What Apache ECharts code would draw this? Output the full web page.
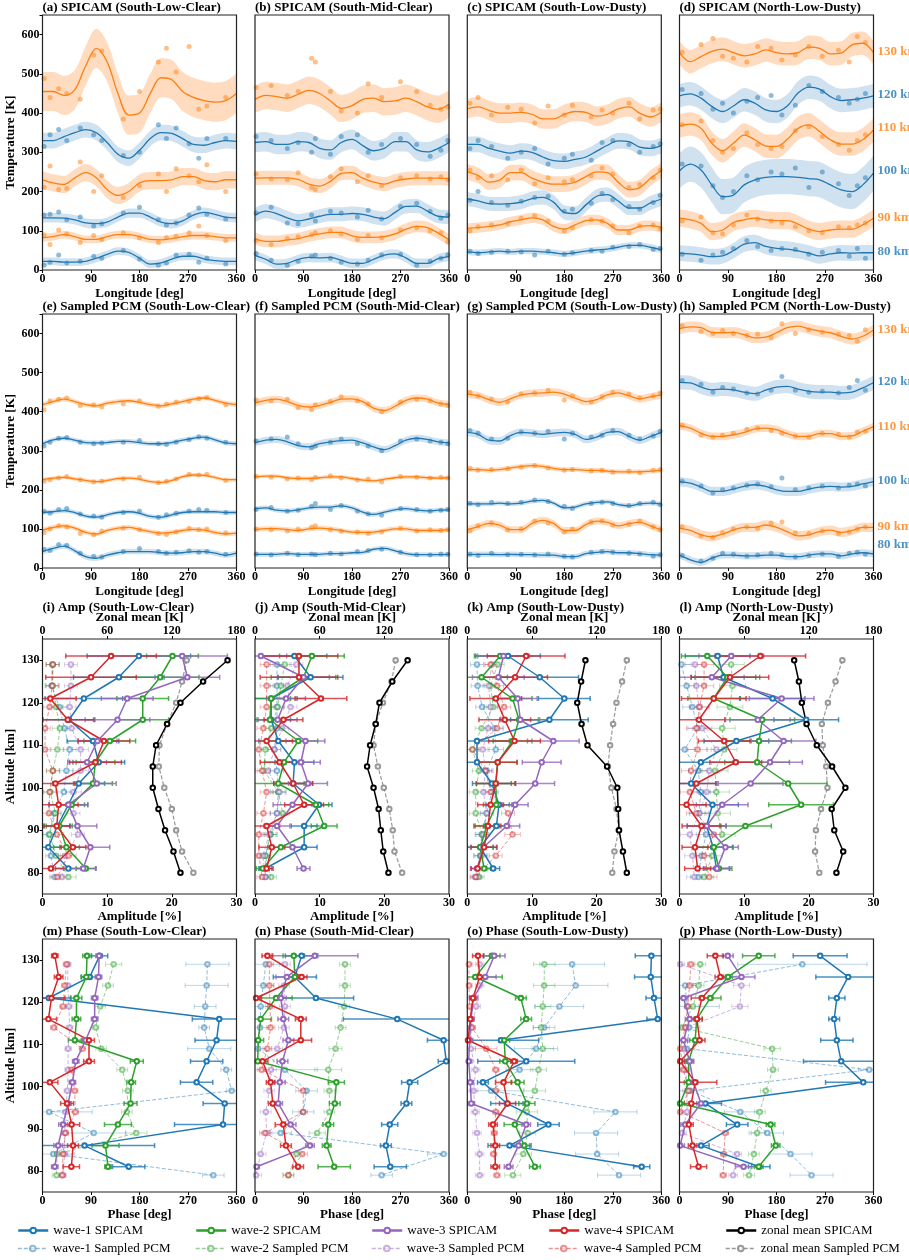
<!DOCTYPE html>
<html><head><meta charset="utf-8">
<script src="https://cdn.jsdelivr.net/npm/echarts@6/dist/echarts.min.js"></script>
<style>html,body{margin:0;padding:0;background:#fff}#c{width:909px;height:1260px}</style>
</head><body><div id="c"></div>
<script>
// ---------------- DATA ----------------
const lonFit=[0,20,40,60,80,100,120,140,160,180,200,220,240,260,280,300,320,340,360];
const kmLabels=['80 km','90 km','100 km','110 km','120 km','130 km'];
const kmPosTop=[46,133,253,362,446,557];
const kmPosBot=[61,106,223,363,476,610];
// fits: rows 80,90,100,110,120,130 km (offset temperatures)
const fitA=[[22,22,20,20,22,30,40,48,45,30,15,18,28,35,35,28,24,22,22],[82,85,90,85,78,78,85,90,90,85,78,77,80,85,88,88,85,82,82],[133,133,132,128,120,118,122,135,145,145,135,122,118,125,140,147,142,135,133],[230,222,218,235,248,235,205,190,200,222,228,228,230,238,238,228,225,230,230],[330,330,340,350,358,350,325,295,285,305,335,350,348,335,320,318,325,330,328],[455,455,445,460,520,565,530,450,395,400,450,490,485,455,440,432,428,432,450]];
const sigA=[10,10,12,22,20,50];
const fitB=[[37,27,15,17,27,32,31,32,25,17,17,27,38,41,31,17,17,29,35],[80,73,73,77,80,87,92,96,96,87,83,83,85,92,104,111,108,94,77],[140,150,144,133,125,130,137,142,142,144,142,135,131,147,162,163,150,137,135],[234,235,235,235,231,219,214,226,246,248,234,224,219,227,232,234,234,234,233],[325,327,320,320,327,325,310,306,325,333,317,304,310,327,327,306,301,310,325],[435,445,442,438,448,458,450,431,412,419,435,438,429,431,438,429,416,410,423]];
const sigB=[12,15,18,18,25,35];
const fitC=[[46,44,46,48,46,48,48,46,44,41,44,48,51,53,58,63,63,58,51],[106,108,111,115,123,128,133,128,111,104,115,126,128,119,102,102,111,113,108],[181,176,169,168,169,173,182,185,173,147,144,166,188,192,176,158,158,171,181],[250,241,224,229,248,248,234,224,219,219,224,238,250,248,224,205,210,234,253],[320,320,310,303,298,303,300,288,279,277,282,288,303,318,329,327,313,310,317],[411,416,407,400,400,402,397,385,385,397,404,402,392,397,411,416,400,390,402]];
const sigC=[8,13,18,20,20,25];
const fitD=[[43,41,38,34,36,49,66,70,60,55,53,49,43,36,41,44,43,44,44],[132,128,119,98,102,121,128,132,128,126,126,117,104,98,102,104,104,115,132],[253,270,255,217,187,191,217,230,236,238,238,236,233,230,217,204,200,217,247],[367,372,361,323,304,323,344,332,316,315,333,361,370,353,332,321,321,332,357],[444,449,438,417,404,418,434,425,408,404,418,451,466,461,442,432,434,438,444],[554,531,544,557,563,554,546,551,561,554,551,554,568,565,551,553,574,578,554]];
const sigD=[20,22,45,30,30,30];
const fitE=[[42,50,56,44,29,25,33,39,42,42,42,39,38,39,42,42,38,33,38],[97,104,108,102,91,87,96,102,104,99,93,89,91,96,99,97,91,87,89],[142,144,147,142,133,130,136,142,144,140,132,130,136,142,144,144,144,142,142],[226,230,232,228,224,221,224,229,230,227,221,219,224,234,238,237,232,226,226],[318,328,332,327,321,320,321,324,324,321,318,318,321,327,332,335,328,320,318],[418,426,432,426,418,415,422,426,428,424,418,415,420,426,432,435,429,422,418]];
const sigE=[7,6,6,5,6,6];
const fitF=[[35,35,35,37,35,35,35,37,37,39,40,48,50,44,37,34,34,34,35],[98,101,101,98,96,100,102,100,96,92,91,92,96,100,100,96,96,96,98],[152,154,148,146,149,154,156,156,159,154,143,137,143,149,152,148,146,148,149],[233,235,235,231,229,229,231,233,233,229,225,223,227,231,233,233,231,230,231],[320,327,329,323,313,310,318,323,326,327,320,310,303,313,327,332,329,323,320],[422,429,432,426,416,412,416,424,432,433,426,409,403,414,429,435,432,422,419]];
const sigF=[6,6,6,5,9,9];
const fitG=[[34,35,35,34,35,34,34,33,33,29,29,37,40,42,39,39,37,34,33],[98,106,114,110,98,98,114,122,114,96,96,111,120,117,108,114,117,108,98],[164,164,164,166,164,166,171,173,166,154,156,164,168,169,162,159,164,166,164],[252,252,250,252,256,260,262,260,255,252,252,250,250,248,246,246,246,248,250],[347,342,327,325,339,347,345,342,345,347,342,329,335,347,349,337,327,337,347],[445,441,431,424,433,443,447,448,450,445,435,426,431,443,448,441,433,438,443]];
const sigG=[7,9,6,6,10,10];
const fitH=[[33,21,14,25,33,33,31,31,33,33,29,29,33,36,36,31,36,39,36],[102,96,85,80,87,97,104,104,110,104,93,82,85,93,97,91,96,104,104],[221,217,207,196,196,202,209,213,209,200,196,196,202,207,209,207,209,215,221],[364,358,345,337,337,341,347,356,358,354,344,337,337,344,344,337,338,350,362],[475,474,463,456,458,456,450,446,455,463,465,458,452,450,450,448,450,461,474],[612,617,615,603,602,603,597,589,591,602,615,619,612,606,602,593,586,593,609]];
const sigH=[9,12,12,10,18,14];
// observation longitudes per column, and observed (offset) temperatures
const lonA=[3,14,30,45,70,95,110,150,180,215,230,248,272,290,305,340];
const lonB=[2,30,60,80,105,112,140,160,190,210,235,270,300,325,345,358];
const lonC=[5,20,45,75,100,125,150,180,195,230,250,270,300,320,345,358];
const lonD=[5,40,62,80,100,125,145,170,190,215,240,265,295,315,330,345];
const ptsA=[[12,20,38,18,22,35,30,50,28,12,18,38,40,20,30,15],[90,65,102,92,70,88,78,95,82,70,82,86,95,112,88,75],[140,142,148,128,135,112,118,145,160,128,115,120,140,158,142,130],[210,265,205,208,275,200,240,185,215,245,200,258,240,225,268,200],[315,345,358,330,362,345,330,292,300,370,335,362,322,285,335,335],[488,440,462,450,435,548,558,385,455,530,565,505,570,410,418,440]];
const ptsE=[[48,45,60,58,38,30,28,42,50,42,38,40,44,40,42,35],[90,100,108,105,88,85,95,102,98,88,86,92,102,98,100,90],[145,140,150,152,138,133,130,142,146,130,136,140,146,150,148,142],[222,226,230,234,226,220,222,228,232,218,222,228,240,238,240,224],[312,322,332,334,322,318,320,322,326,318,316,322,328,336,332,322],[405,428,432,435,415,418,412,420,428,414,420,425,426,433,436,418]];
const ptsB=[[42,25,12,22,35,38,30,20,15,25,38,40,12,22,30,38],[75,65,80,85,90,95,100,92,78,88,82,102,108,100,95,72],[145,160,120,118,140,125,150,145,135,152,130,162,170,150,132,140],[245,232,230,248,210,205,238,258,225,240,215,235,240,232,238,230],[340,330,310,325,300,335,295,340,345,300,320,335,320,290,305,330],[465,470,445,455,540,530,455,405,400,475,440,480,455,420,410,415]];
const ptsF=[[36,33,38,34,36,34,38,36,42,45,48,40,34,33,36,35],[100,98,95,100,105,108,98,94,92,88,92,102,95,98,96,98],[150,155,145,148,158,165,150,160,145,138,135,152,150,145,148,150],[235,232,228,230,226,232,236,230,225,228,220,234,232,230,232,230],[325,330,335,318,308,312,322,330,318,312,300,325,330,325,322,318],[430,428,432,410,405,418,426,438,428,420,400,425,432,428,420,416]];
const ptsC=[[48,42,45,48,46,38,48,40,44,50,48,58,60,65,52,55],[100,110,115,118,132,138,125,100,108,128,125,112,95,112,115,105],[178,200,172,165,175,185,188,150,155,170,195,180,162,155,172,190],[255,235,240,230,255,220,235,225,230,240,260,245,210,218,235,255],[310,330,315,285,300,310,270,285,295,280,325,330,320,300,315,322],[425,440,395,415,410,375,418,395,420,390,408,400,425,385,408,410]];
const ptsG=[[36,32,38,34,35,33,36,30,28,40,42,40,38,36,30,34],[95,108,115,98,100,120,115,92,100,118,120,110,112,120,105,98],[166,162,168,165,168,174,170,158,152,165,168,165,160,165,168,162],[255,250,252,254,258,262,256,250,252,248,250,245,248,244,250,252],[352,345,330,332,348,345,350,330,345,335,340,352,340,330,338,350],[450,440,432,425,445,448,455,430,440,425,438,450,445,435,440,448]];
const ptsD=[[40,25,38,45,55,75,60,50,55,52,40,45,50,35,55,30],[125,135,95,92,115,140,130,125,120,110,100,95,110,108,115,120],[270,265,215,185,200,240,230,250,245,260,210,250,220,190,215,235],[370,380,330,300,310,350,320,310,315,355,365,340,320,305,330,345],[460,450,410,425,400,430,440,445,395,420,470,455,440,425,435,450],[555,575,590,545,540,530,570,565,535,548,570,545,560,530,595,580]];
const ptsH=[[32,18,25,38,35,30,33,38,34,28,32,36,30,38,40,35],[105,82,78,90,100,105,102,115,118,90,88,95,88,92,100,105],[222,210,192,200,205,212,215,208,230,200,205,210,205,212,215,210],[365,340,335,340,345,355,358,352,345,338,335,345,342,335,348,350],[480,470,450,462,458,448,445,455,490,455,450,452,448,462,480,455],[620,605,600,608,600,595,598,590,625,600,610,603,598,595,580,610]];

// altitude levels
const altS=[131,126,121,116,111,106,101,96,91,86,81];
const altZ=[130,125,120,115,110,105,100,95,90,85,80];
const altP=[129,124,119,114,109,104,99,94,89,84,79];
// amplitudes [%] : wave-1..4 ; zonal mean [K]
const ampS_i=[[14.9,11.8,6.4,4.1,7.8,8.7,5.6,4.0,2.3,0.9,4.0],[20.1,18.2,15.5,15.5,10.4,8.2,7.8,4.5,2.6,3.7,6.7],[21.6,22.4,13.1,11.6,8.5,6.9,8.4,4.0,5.4,7.4,6.3],[10.6,7.5,1.2,3.9,9.5,8.2,2.0,2.5,2.2,4.7,1.3]];
const ampSe_i=[[8,7,6,4,4,4,4,3,2,2,2],[4,6,4,4,4,3,3,2,2,2,1.5],[7,5,4,5,3,3,3,3,3,3,2],[7,7,4,4,4,4,3,3,2,2,2]];
const ampP_i=[[1.5,1.4,2.6,3.4,4.2,3.7,3.3,1.8,1.0,1.3,1.9],[1.6,1.6,2.1,2.7,2.3,1.6,1.2,2.0,1.1,2.1,4.0],[4.4,4.4,4.2,4.5,5.9,5.9,4.8,4.8,5.5,3.5,3.0],[1.6,1.5,1.1,0.4,0.4,1.6,1.1,1.0,2.2,4.0,2.3]];
const ampPe_i=[[1,1,1.2,1,1,1,1,1,1,0.8,0.8],[1,1,1,1.2,1,1,1,1,1,1,1.2],[1,1,1,1,1.2,1.2,1.2,1,1,1,1],[1,1,1,0.8,0.8,1,1,1,1,1.2,1]];
const zmS_i=[171.7,149,128,115.6,105.4,102.3,102.3,107.6,113.7,121.5,128];
const zmP_i=[133.8,129.5,124,115.6,108.5,107.9,113,120,124,129.5,140];

const ampS_j=[[6.1,8.6,2.5,2.5,3.6,6.1,5.9,9.9,7.6,7.6,1.6],[8.8,7.5,2.5,2.3,6.7,4.5,3.6,9.4,10.7,4.0,1.2],[0.9,7.5,4.8,3.5,7.8,7.1,8.2,5.8,3.4,5.8,7.5],[6.8,6.8,10.2,4.4,1.8,3.8,5.9,7.6,1.8,2.6,1.8]];
const ampSe_j=[[5,5,4,3,3,3,3,2,2,2,1],[5,5,3,2,3,3,4,2,2,2,1],[4,4,3,3,3,3,3,3,2,2,1],[6,6,4,3,4,3,3,3,2,2,1]];
const ampP_j=[[3.4,3.4,3.4,3.4,3.0,3.4,3.6,3.4,2.4,1.6,1.6],[4.6,4.0,3.5,2.5,1.6,1.4,3.6,4.3,2.4,1.6,2.5],[6.4,5.0,5.5,4.2,3.0,2.0,3.8,3.4,2.2,1.2,1.6],[1.8,1.8,1.8,1.3,0.6,1.1,1.8,1.3,0.6,0.6,1.1]];
const ampPe_j=[[1,1,1,1,1,1,1.2,1,1,0.8,0.8],[1,1,1,1,1,1,1,1,1,0.8,0.8],[1,1,1,1,1,1,1,1,1,0.8,0.8],[1,1,1,1,1,1,1,1,1,0.8,0.8]];
const zmS_j=[141.6,127.4,115.5,112,106.8,104,110,114.7,116.7,119,123.8];
const zmP_j=[130.5,126.6,118.7,112,110,114,119.5,124.6,127.8,129.4,136.5];

const ampS_k=[[6.3,11.2,15.0,12.7,1.5,1.5,3.8,4.9,4.5,2.0,4.0],[5.1,2.2,7.0,8.0,7.0,4.7,4.4,4.5,3.0,2.0,2.6],[5.6,4.8,7.8,8.2,13.3,11.5,10.5,7.4,6.1,2.5,1.5],[9.1,7.4,4.4,5.8,7.3,4.7,4.4,3.6,3.2,2.6,1.6]];
const ampSe_k=[[5,6,4,6,5,3,3,2,2,2,1],[4,4,3,3,3,3,3,2,2,2,1],[4,4,3,3,4,3,3,2,2,2,1],[6,5,4,4,4,3,3,2,2,2,1]];
const ampP_k=[[1.5,1.6,2.3,4.2,4.4,3.0,3.8,3.0,2.2,2.0,1.5],[4.7,3.6,4.0,2.2,0.8,1.8,1.3,1.3,2.3,2.0,1.8],[3.8,3.3,3.6,3.2,2.4,2.8,2.5,3.0,2.5,2.2,1.2],[3.6,4.6,5.7,4.6,0.8,2.8,3.6,6.3,7.0,4.4,1.3]];
const ampPe_k=[[1,1,1,1.2,1.2,1,1,1,1,1,0.8],[1,1,1,1,1,1,1,1,1,1,0.8],[1,1,1,1,1,1,1,1,1,1,0.8],[1,1,1,1,1,1,1,1,1.2,1,0.8]];
const zmS_k=[109.6,105.6,102,106,111.5,129.7,139.2,140,140.8,144.4,148];
const zmP_k=[148,143.6,138.4,135.3,132.5,130.5,133.7,138.4,140.4,136.5,134.5];

const ampS_l=[[5.9,6.8,14.4,19.6,8.8,3.3,1.8,5.1,4.2,5.2,5.7],[4.3,7.4,5.3,12.8,12.3,12.0,16.8,18.8,10.2,5.3,6.1],[8.0,5.0,15.8,12.1,16.1,14.0,11.0,6.6,4.2,7.1,5.8],[12.5,7.8,5.3,3.0,6.9,8.7,2.6,1.1,3.4,2.4,2.8]];
const ampSe_l=[[5,5,5,5,5,5,4,4,3,3,2],[4,5,4,5,5,5,6,5,4,3,2],[5,5,5,5,5,5,5,4,3,2,2],[7,6,5,4,4,4,3,3,3,2,2]];
const ampP_l=[[0.3,1.1,2.0,2.8,0.8,2.9,3.3,3.0,4.1,3.4,2.9],[8.0,8.2,7.8,6.6,6.9,5.5,5.7,5.9,6.6,5.1,3.8],[2.4,2.6,3.0,3.5,5.7,4.6,4.2,3.1,1.6,2.0,2.3],[3.8,3.8,3.1,2.6,2.8,1.8,1.6,2.6,5.3,3.8,4.6]];
const ampPe_l=[[1.5,1.5,1.5,1.5,1.5,1.5,1.5,1.5,1.5,1.2,1.2],[2,2,2,2,2,2,2,2,2,1.5,1.5],[1.5,1.5,1.5,1.5,1.5,1.5,1.5,1.5,1.5,1.2,1.2],[1.5,1.5,1.5,1.5,1.5,1.5,1.5,1.5,1.5,1.2,1.2]];
const zmS_l=[106.4,110.8,113.5,117.9,127.4,141.6,153.9,141.2,143.6,151.9,145.6];
const zmP_l=[151.1,144.8,137.7,132.1,132.9,136.1,137.3,131.3,126.6,125.8,129.7];

// phases [deg]
const phS_m=[[106,87.5,11.7,328,323,304.6,286,338,335,78,160],[82.6,81.4,63,63,60,175,164.6,163.4,140,117,121.5],[105,104,96.8,96.8,80,61.7,55.5,47.5,38,29,22.8],[22.8,30,16.6,11,86.3,86.3,13.6,45.6,54,56.7,53.6]];
const phSe_m=[[15,15,40,50,40,30,30,40,90,130,30],[8,10,10,8,12,12,8,12,25,25,6],[6,6,6,6,6,6,6,6,8,8,6],[6,8,25,15,10,10,15,12,15,10,15]];
const phP_m=[[306,304.6,302,300,309.5,341,351,12.3,95,20,317],[132,121.5,107,98.6,109,148,158.4,156.6,174,27,26],[47,47,49,50.5,47.5,47.5,46,43,41.3,41,38],[44.4,41.3,38,21,74,54,59.8,61,42.5,38,36.4]];
const phPe_m=[[40,40,20,10,40,10,10,80,60,40,20],[15,10,10,6,10,10,10,10,20,10,8],[6,6,6,6,6,6,6,6,6,6,6],[6,6,6,6,6,6,6,6,6,6,6]];

const phS_n=[[86.5,74,113,264,350,355,287,281,250,243,251],[72,74,39,10.5,6,5,151,148,136,133,147],[111,59,48,52.5,62,51,46,43,66,102,3],[23,86.5,2,85,85,14,29,33,52.5,57.4,80]];
const phSe_n=[[30,40,70,100,30,15,15,10,15,10,30],[20,10,30,20,10,15,15,10,10,8,30],[80,20,10,10,10,10,10,8,10,8,5],[10,10,10,10,20,10,8,8,15,10,10]];
const phP_n=[[20,15.4,10.5,9.3,6,55.6,95.7,89.5,47.6,350,235],[167,167,165.5,158.7,149.5,136,138,138,115.5,77,62],[55.6,54,55.6,53.7,41.3,29.6,26.6,20,21.6,10.5,2],[26.6,26.6,27.8,29,22.9,12.4,89.5,89.5,18.5,87.7,62]];
const phPe_n=[[30,20,15,15,15,60,20,20,20,30,20],[10,10,10,10,12,25,10,10,15,10,10],[10,10,10,10,10,10,10,10,10,10,10],[8,8,8,8,8,8,8,8,10,10,10]];

const phS_o=[[341.6,340.4,346.5,353.3,62.4,109.4,29,73.5,150.6,78.4,323.6],[45.7,14.8,99.4,109.3,68.6,70.4,93.3,110.6,88.3,105.6,125.4],[50,33.4,11.7,6.8,4.3,2.5,5.6,7.4,109.3,95,76.6],[19.8,22.9,10.5,5.6,1.2,87,67.3,74.7,47.6,51.9,51.9]];
const phSe_o=[[30,30,15,20,70,90,10,30,20,40,15],[15,50,10,10,10,10,12,15,20,10,10],[20,20,8,6,6,6,6,6,8,8,8],[10,10,6,6,6,6,15,15,8,8,8]];
const phP_o=[[194.5,201,171,142.6,127.8,97,44,274.8,239,241,281.6],[143,142.6,140,137,140,132,125.4,110.6,112,104,84.6],[22.9,22.9,16.7,7.4,6.8,15.4,11.7,14.8,18,22.9,22.9],[3,3,4.3,8.6,35.2,53,53,53,50,48.8,55]];
const phPe_o=[[60,60,45,20,40,25,60,40,40,40,40],[20,20,15,15,20,15,20,20,15,15,15],[8,8,8,8,8,8,8,8,8,8,8],[6,6,6,6,20,6,6,6,6,6,6]];

const phS_p=[[261,313,292,287,292,300,341,48,107,40,148],[147,90,57,32,29,17,17,1,169,178.5,147],[89.6,115,7.5,18.7,7.5,18.7,26,40,10.6,1.2,119],[66.5,75.9,41.7,32.3,37.3,1.2,29.2,21.8,17.4,24.3,35.4]];
const phSe_p=[[50,60,15,10,30,70,70,30,20,15,20],[30,8,20,10,10,8,8,8,8,8,8],[10,25,8,8,8,8,8,8,8,8,15],[15,10,20,10,10,8,40,30,8,8,15]];
const phP_p=[[228,10.6,14,18,13.7,352,20,113,163,206,245],[38.6,35.4,25,4.4,172,173.5,160,149,144,138,129],[1.2,115,112,12,7.5,12,14,14,4.4,107,99.5],[21,18.7,15,10.6,1.2,7.5,16.8,1.2,85,82,81]];
const phPe_p=[[120,20,60,20,15,20,25,30,30,40,40],[10,10,10,10,15,10,10,10,15,10,10],[8,15,15,8,8,8,8,8,8,8,8],[6,6,6,6,6,6,6,6,6,6,6]];

// ---------------- CHART ----------------
const FONT='"Liberation Serif","Times New Roman",serif';
const BLUE='#1f77b4',ORANGE='#ff7f0e',GREEN='#2ca02c',PURPLE='#9467bd',RED='#d62728';
const WAVE_COLORS=[BLUE,GREEN,PURPLE,RED];
const LEFTS=[42.5,255,467.3,679.5],PW=194;
const ROWS=[[15,255],[314,254],[639,255],[939,253]];
const lbl={fontFamily:FONT,fontWeight:'bold',fontSize:12,color:'#000'};
const nameStyle={fontFamily:FONT,fontWeight:'bold',fontSize:13,color:'#000'};
const grid=[],xAxis=[],yAxis=[],series=[],title=[];

function addGrid(r,c,text){
  grid.push({left:LEFTS[c],top:ROWS[r][0],width:PW,height:ROWS[r][1],show:true,borderColor:'#222',borderWidth:1.2,
    backgroundColor:'transparent',z:5,containLabel:false,outerBoundsMode:'none'});
  const tops=[1,300,601,925];
  title.push({text:text,left:LEFTS[c],top:tops[r],padding:0,textStyle:{...nameStyle}});
  return grid.length-1;
}
function addX(o){xAxis.push(Object.assign({type:'value',axisLine:{show:false},splitLine:{show:false},
  axisTick:{show:true,length:3,lineStyle:{color:'#000'}},nameLocation:'middle',nameTextStyle:nameStyle},o));return xAxis.length-1;}
function addY(o){yAxis.push(Object.assign({type:'value',axisLine:{show:false},splitLine:{show:false},
  nameLocation:'middle',nameTextStyle:nameStyle},o));return yAxis.length-1;}

const tempPanels=[
 [0,0,'(a) SPICAM (South-Low-Clear)',fitA,sigA,lonA,ptsA,null],
 [0,1,'(b) SPICAM (South-Mid-Clear)',fitB,sigB,lonB,ptsB,null],
 [0,2,'(c) SPICAM (South-Low-Dusty)',fitC,sigC,lonC,ptsC,null],
 [0,3,'(d) SPICAM (North-Low-Dusty)',fitD,sigD,lonD,ptsD,kmPosTop],
 [1,0,'(e) Sampled PCM (South-Low-Clear)',fitE,sigE,lonA,ptsE,null],
 [1,1,'(f) Sampled PCM (South-Mid-Clear)',fitF,sigF,lonB,ptsF,null],
 [1,2,'(g) Sampled PCM (South-Low-Dusty)',fitG,sigG,lonC,ptsG,null],
 [1,3,'(h) Sampled PCM (North-Low-Dusty)',fitH,sigH,lonD,ptsH,kmPosBot]
];
tempPanels.forEach(([r,c,txt,fit,sig,lon,pts,km])=>{
  const gi=addGrid(r,c,txt);
  const xi=addX({gridIndex:gi,min:0,max:360,interval:90,axisLabel:{...lbl,margin:3,hideOverlap:false},
    name:'Longitude [deg]',nameGap:17});
  const yi=addY({gridIndex:gi,min:0,max:650,interval:100,axisTick:{show:c===0,length:3,lineStyle:{color:'#000'}},
    axisLabel:{show:c===0,...lbl,margin:3,formatter:v=>(v%100===0?String(v):'')},
    name:c===0?'Temperature [K]':'',nameGap:22});
  for(let k=5;k>=0;k--){
    const band=(k%2===1)?'#ffdcc0':'#d0e2ef';
    series.push({type:'line',xAxisIndex:xi,yAxisIndex:yi,data:lonFit.map((x,i)=>[x,fit[k][i]+sig[k]]),smooth:0.35,
      symbol:'none',lineStyle:{width:0,opacity:0},areaStyle:{color:band,opacity:1,origin:'start'},silent:true,z:1});
    series.push({type:'line',xAxisIndex:xi,yAxisIndex:yi,data:lonFit.map((x,i)=>[x,fit[k][i]-sig[k]]),smooth:0.35,
      symbol:'none',lineStyle:{width:0,opacity:0},areaStyle:{color:'#ffffff',opacity:1,origin:'start'},silent:true,z:1});
  }
  for(let k=0;k<6;k++){
    const col=(k%2===1)?ORANGE:BLUE;
    series.push({type:'scatter',xAxisIndex:xi,yAxisIndex:yi,data:lon.map((x,i)=>[x,pts[k][i]]),symbolSize:5,
      itemStyle:{color:col,opacity:0.5},silent:true,z:3});
    series.push({type:'line',xAxisIndex:xi,yAxisIndex:yi,data:lonFit.map((x,i)=>[x,fit[k][i]]),smooth:0.35,
      symbol:'none',lineStyle:{color:col,width:1.3},silent:true,z:4});
  }
  if(km){
    series.push({type:'scatter',xAxisIndex:xi,yAxisIndex:yi,symbolSize:0,clip:false,silent:true,z:6,
      data:kmLabels.map((t,i)=>({name:t,value:[360,km[i]],label:{color:(i%2===1)?ORANGE:BLUE}})),
      label:{show:true,position:'right',distance:4,formatter:'{b}',fontFamily:FONT,fontWeight:'bold',fontSize:13}});
  }
});

function errSeries(xi,yi,xs,ys,es,color,opacity,lw){
  return {type:'custom',xAxisIndex:xi,yAxisIndex:yi,clip:true,silent:true,z:2,dimensions:['x','y','e'],
    encode:{x:0,y:1},data:xs.map((x,i)=>[x,ys[i],es[i]]),
    renderItem:(params,api)=>{
      const x=api.value(0),y=api.value(1),e=api.value(2);
      const a=api.coord([x-e,y]),b=api.coord([x+e,y]);const cap=2.5;
      const st={stroke:color,lineWidth:lw,opacity:opacity};
      return {type:'group',children:[
        {type:'line',shape:{x1:a[0],y1:a[1],x2:b[0],y2:b[1]},style:st},
        {type:'line',shape:{x1:a[0],y1:a[1]-cap,x2:a[0],y2:a[1]+cap},style:st},
        {type:'line',shape:{x1:b[0],y1:b[1]-cap,x2:b[0],y2:b[1]+cap},style:st}]};
    }};
}
function waveLines(xi,yi,S,Se,P,Pe){
  for(let w=0;w<4;w++){
    const col=WAVE_COLORS[w];
    series.push(errSeries(xi,yi,P[w],altP,Pe[w],col,0.3,1));
    series.push({type:'line',name:'wave-'+(w+1)+' Sampled PCM',xAxisIndex:xi,yAxisIndex:yi,data:P[w].map((v,i)=>[v,altP[i]]),
      symbol:'emptyCircle',symbolSize:4.5,lineStyle:{color:col,width:1,type:[4,2],opacity:0.5},
      itemStyle:{color:col,borderWidth:1,opacity:0.5},z:3});
  }
  for(let w=0;w<4;w++){
    const col=WAVE_COLORS[w];
    series.push(errSeries(xi,yi,S[w],altS,Se[w],col,0.8,1.5));
    series.push({type:'line',name:'wave-'+(w+1)+' SPICAM',xAxisIndex:xi,yAxisIndex:yi,data:S[w].map((v,i)=>[v,altS[i]]),
      symbol:'emptyCircle',symbolSize:4.5,lineStyle:{color:col,width:1.5},itemStyle:{color:col,borderWidth:1.1},z:4});
  }
}
function altAxis(gi,c){
  return addY({gridIndex:gi,min:75,max:135,interval:5,
    axisTick:{show:c===0,length:3,lineStyle:{color:'#000'},customValues:[80,90,100,110,120,130]},
    axisLabel:{show:c===0,...lbl,margin:3,customValues:[80,90,100,110,120,130]},
    name:c===0?'Altitude [km]':'',nameGap:22});
}
const ampPanels=[
 ['(i) Amp (South-Low-Clear)',ampS_i,ampSe_i,ampP_i,ampPe_i,zmS_i,zmP_i],
 ['(j) Amp (South-Mid-Clear)',ampS_j,ampSe_j,ampP_j,ampPe_j,zmS_j,zmP_j],
 ['(k) Amp (South-Low-Dusty)',ampS_k,ampSe_k,ampP_k,ampPe_k,zmS_k,zmP_k],
 ['(l) Amp (North-Low-Dusty)',ampS_l,ampSe_l,ampP_l,ampPe_l,zmS_l,zmP_l]
];
ampPanels.forEach(([txt,S,Se,P,Pe,zS,zP],c)=>{
  const gi=addGrid(2,c,txt);
  const xi=addX({gridIndex:gi,min:0,max:30,interval:10,axisLabel:{...lbl,margin:3},name:'Amplitude [%]',nameGap:15});
  const xt=addX({gridIndex:gi,position:'top',min:0,max:180,interval:60,axisLabel:{...lbl,margin:2},name:'Zonal mean [K]',nameGap:14});
  const yi=altAxis(gi,c);
  waveLines(xi,yi,S,Se,P,Pe);
  series.push({type:'line',name:'zonal mean Sampled PCM',xAxisIndex:xt,yAxisIndex:yi,data:zP.map((v,i)=>[v,altZ[i]]),
    symbol:'emptyCircle',symbolSize:4.5,lineStyle:{color:'#7f7f7f',width:1.2,type:[4,2],opacity:0.8},itemStyle:{color:'#7f7f7f',borderWidth:1,opacity:0.8},z:3});
  series.push({type:'line',name:'zonal mean SPICAM',xAxisIndex:xt,yAxisIndex:yi,data:zS.map((v,i)=>[v,altZ[i]]),
    symbol:'emptyCircle',symbolSize:4.5,lineStyle:{color:'#000',width:1.5},itemStyle:{color:'#000',borderWidth:1.1},z:4});
});
const phPanels=[
 ['(m) Phase (South-Low-Clear)',phS_m,phSe_m,phP_m,phPe_m],
 ['(n) Phase (South-Mid-Clear)',phS_n,phSe_n,phP_n,phPe_n],
 ['(o) Phase (South-Low-Dusty)',phS_o,phSe_o,phP_o,phPe_o],
 ['(p) Phase (North-Low-Dusty)',phS_p,phSe_p,phP_p,phPe_p]
];
phPanels.forEach(([txt,S,Se,P,Pe],c)=>{
  const gi=addGrid(3,c,txt);
  const xi=addX({gridIndex:gi,min:0,max:360,interval:90,axisLabel:{...lbl,margin:3,hideOverlap:false},name:'Phase [deg]',nameGap:15});
  const yi=altAxis(gi,c);
  waveLines(xi,yi,S,Se,P,Pe);
});

const legNames=[['wave-1 SPICAM','wave-2 SPICAM','wave-3 SPICAM','wave-4 SPICAM','zonal mean SPICAM'],
 ['wave-1 Sampled PCM','wave-2 Sampled PCM','wave-3 Sampled PCM','wave-4 Sampled PCM','zonal mean Sampled PCM']];
const legLefts=[17,195,371,548,725],legTops=[1224,1242];
const legend=[];
legNames.forEach((row,r)=>row.forEach((n,c)=>legend.push({data:[n],left:legLefts[c],top:legTops[r],padding:0,
  itemWidth:30,itemHeight:7,itemGap:6,selectedMode:false,lineStyle:{width:r===0?2.5:1.5},
  textStyle:{fontFamily:FONT,fontSize:13,color:'#000'}})));

const chart=echarts.init(document.getElementById('c'),null,{renderer:'canvas'});
chart.setOption({animation:false,backgroundColor:'#fff',title,grid,xAxis,yAxis,series,legend});
</script></body></html>
